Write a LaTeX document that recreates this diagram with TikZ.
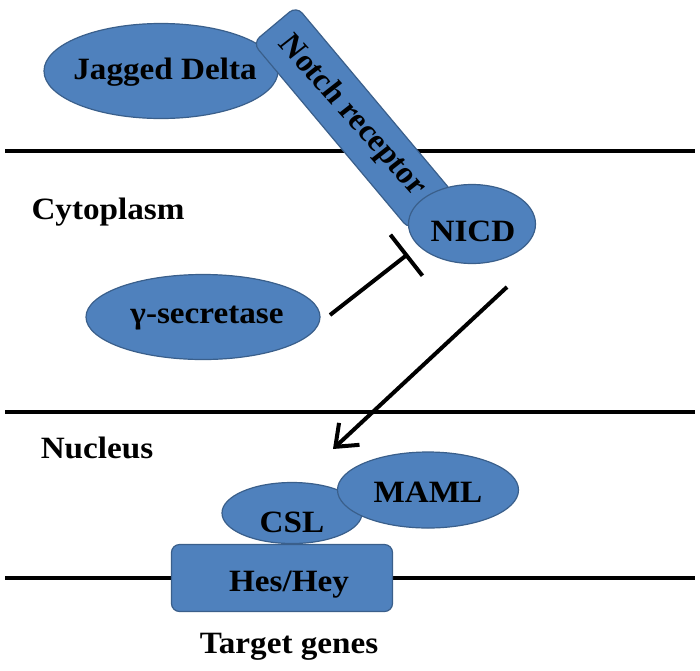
\documentclass[tikz,border=0pt]{standalone}
\usepackage{fontspec}
\setmainfont{Liberation Serif}
\usetikzlibrary{shapes.geometric,arrows.meta}
\definecolor{blobfill}{HTML}{4F81BD}
\definecolor{blobedge}{HTML}{3A5F8B}
\tikzset{
  blob/.style={ellipse, fill=blobfill, draw=blobedge, line width=1.2pt, inner sep=0pt},
  boxshape/.style={rectangle, rounded corners=9pt, fill=blobfill, draw=blobedge, line width=1.2pt, inner sep=0pt},
  lbl/.style={font=\fontsize{31}{36}\selectfont\bfseries, inner sep=0pt, text=black, xscale=1.07},
  membrane/.style={line width=4pt, black},
  inhibit/.style={line width=4pt, -{Bar[width=52pt,line width=4pt]}},
  activate/.style={line width=4pt, -{Straight Barb[length=19pt,width=30pt,line width=4pt]}}
}
\begin{document}
\begin{tikzpicture}[x=1pt,y=-1pt]
\useasboundingbox (0,0) rectangle (700,670);
% membranes
\coordinate (m1a) at (5,151); \coordinate (m1b) at (695,151);
\coordinate (m2a) at (5,412); \coordinate (m2b) at (695,412);
\coordinate (m3a) at (5,578); \coordinate (m3b) at (695,578);
\draw[membrane] (m1a) -- (m1b);
\draw[membrane] (m2a) -- (m2b);
\draw[membrane] (m3a) -- (m3b);
% ligand
\node[blob, minimum width=234pt, minimum height=95pt] (jd) at (161,71) {};
\node[lbl] at (165,72) {Jagged Delta};
% receptor
\node[boxshape, minimum width=244pt, minimum height=57pt, rotate=-50] (nr) at (353,118) {};
\node[lbl, rotate=-50] at (352,116) {Notch receptor};
% NICD
\node[blob, minimum width=127pt, minimum height=79pt] (nicd) at (472,224) {};
\node[lbl] at (473,231) {NICD};
% gamma secretase
\node[blob, minimum width=234pt, minimum height=85pt] (gs) at (203,317) {};
\node[lbl] at (207,318) {γ-secretase};
% labels
\node[lbl] (cyto) at (108,212) {Cytoplasm};
\node[lbl] (nuc) at (97,448) {Nucleus};
% nucleus complex
\node[boxshape, minimum width=221pt, minimum height=67pt, rounded corners=8pt] (hes) at (282,578) {};
\node[lbl] at (289,585) {Hes/Hey};
\node[blob, minimum width=140pt, minimum height=61pt] (csl) at (292,513) {};
\node[lbl] at (292,522) {CSL};
\node[blob, minimum width=181pt, minimum height=76pt] (maml) at (428,490) {};
\node[lbl] at (428,492) {MAML};
\node[lbl] (tg) at (289,647) {Target genes};
% connectors
\coordinate (inhA) at (330,315);
\coordinate (inhB) at (408,254);
\draw[inhibit] (inhA) -- (inhB);
\coordinate (actA) at (507,287);
\coordinate (actB) at (333,449);
\draw[activate] (actA) -- (actB);
\end{tikzpicture}
\end{document}
